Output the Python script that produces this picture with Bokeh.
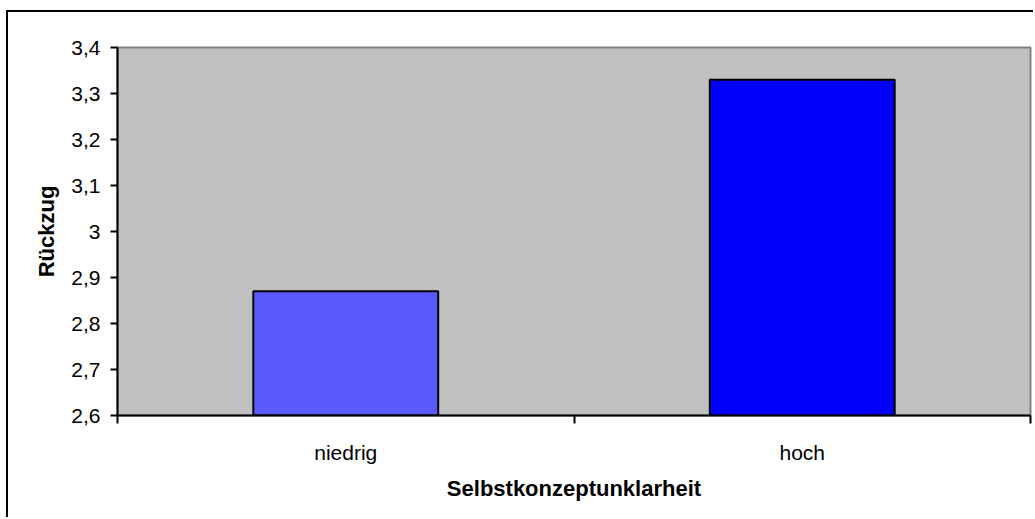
from bokeh.plotting import figure
from bokeh.models import Range1d, FixedTicker, CustomJSTickFormatter, ColumnDataSource
from bokeh.embed import file_html
from bokeh.resources import INLINE

# data
categories = ["niedrig", "hoch"]
values = [2.87, 3.33]
bar_colors = ["#5a5aff", "#0000ff"]
y_ticks = [2.6, 2.7, 2.8, 2.9, 3.0, 3.1, 3.2, 3.3, 3.4]
y_min, y_max = 2.6, 3.4
x_title = "Selbstkonzeptunklarheit"
y_title = "Rückzug"

FONT = "Liberation Sans"

positions = [i + 0.5 for i in range(len(categories))]
source = ColumnDataSource(dict(x=positions, top=values, color=bar_colors, cat=categories))

p = figure(
    width=1027, height=507,
    x_range=Range1d(0, len(categories)),
    y_range=Range1d(y_min, y_max),
    output_backend="svg", toolbar_location=None,
    min_border_left=109, min_border_right=5, min_border_top=35, min_border_bottom=104,
)
p.styles = {
    "margin-left": "6px", "margin-top": "10px",
    "border-top": "2px solid #000", "border-left": "2px solid #000",
}

p.background_fill_color = "#c0c0c0"
p.border_fill_color = "white"
p.outline_line_color = "#808080"
p.outline_line_width = 2
p.xgrid.visible = False
p.ygrid.visible = False

p.vbar(x="x", top="top", bottom=y_min, width=0.405, fill_color="color",
       line_color="black", line_width=2, source=source)

# y axis
yax = p.yaxis[0]
yax.ticker = FixedTicker(ticks=y_ticks, minor_ticks=[])
yax.formatter = CustomJSTickFormatter(
    code="return (Math.round(tick * 10) / 10).toString().replace('.', ',');")
yax.axis_line_color = "black"
yax.axis_line_width = 2
yax.major_tick_line_color = "black"
yax.major_tick_line_width = 2
yax.major_tick_out = 7
yax.major_tick_in = 0
yax.major_label_standoff = 10
yax.major_label_text_font = FONT
yax.major_label_text_font_size = "21px"
yax.major_label_text_color = "black"
yax.axis_label = y_title
yax.axis_label_text_font = FONT
yax.axis_label_text_font_size = "22px"
yax.axis_label_text_font_style = "bold"
yax.axis_label_text_color = "black"
yax.axis_label_standoff = 9

# x axis: labels at category centres, tick marks at category boundaries
xax = p.xaxis[0]
xax.ticker = FixedTicker(ticks=positions, minor_ticks=list(range(len(categories) + 1)))
xax.major_label_overrides = {pos: cat for pos, cat in zip(positions, categories)}
xax.axis_line_color = "black"
xax.axis_line_width = 2
xax.major_tick_out = 0
xax.major_tick_in = 0
xax.minor_tick_line_color = "black"
xax.minor_tick_line_width = 2
xax.minor_tick_out = 8
xax.minor_tick_in = 0
xax.major_label_standoff = 17
xax.major_label_text_font = FONT
xax.major_label_text_font_size = "21px"
xax.major_label_text_color = "black"
xax.axis_label = x_title
xax.axis_label_text_font = FONT
xax.axis_label_text_font_size = "22px"
xax.axis_label_text_font_style = "bold"
xax.axis_label_text_color = "black"
xax.axis_label_standoff = 9

open("out.html", "w").write(file_html(p, INLINE))
